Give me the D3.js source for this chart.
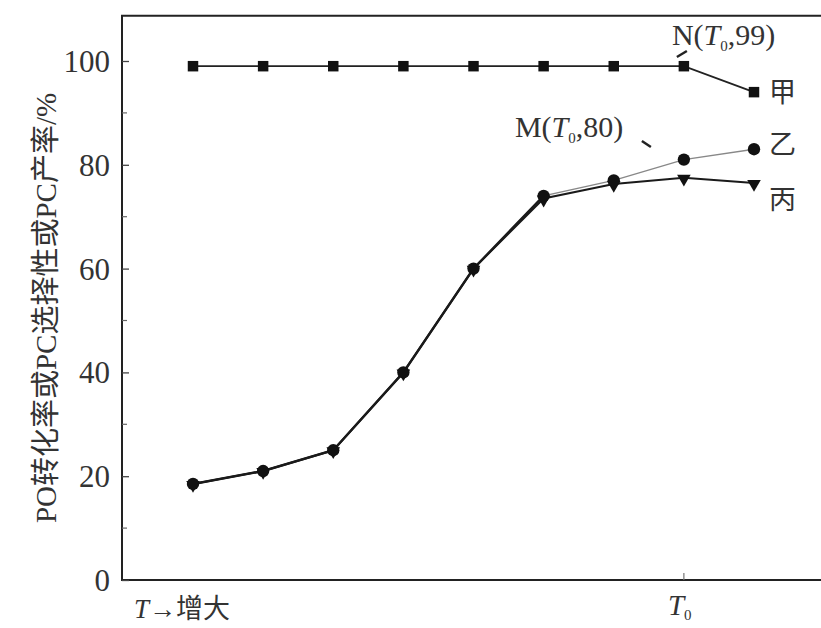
<!DOCTYPE html>
<html><head><meta charset="utf-8">
<script src="https://cdn.jsdelivr.net/npm/d3@7/dist/d3.min.js"></script>
<style>body{margin:0;background:#fff}</style>
</head><body>
<svg id="c" width="821" height="628"></svg>
<script>
const xIndex = [0,1,2,3,4,5,6,7,8];
const jia  = [99,99,99,99,99,99,99,99,94];
const yi   = [18.5,21,25,40,60,74,77,81,83];
const bing = [18.5,21,25,40,60,73.5,76.3,77.5,76.5];
const yTicks = [0,20,40,60,80,100];
const yMinor = [10,30,50,70,90];

const svg = d3.select("#c");
const x = d3.scaleLinear().domain([0,8]).range([193,754]);
const y = d3.scaleLinear().domain([0,100]).range([580,61]);
const pLeft = 122, pRight = 830, pBottom = y(0), pTop = y(108.7);
const serif = "'Liberation Serif','DejaVu Serif',serif";
const cjk = "'Liberation Serif','Noto Sans CJK SC',serif";

// frame
svg.append("path").attr("d",`M${pRight},${pTop}H${pLeft}V${pBottom}H${pRight}`)
  .attr("fill","none").attr("stroke","#222").attr("stroke-width",2);

// y axis ticks
const ya = svg.append("g").attr("transform",`translate(${pLeft},0)`)
  .call(d3.axisLeft(y).tickValues(yTicks).tickSize(-7).tickPadding(12).tickFormat(d3.format("d")));
ya.select(".domain").remove();
ya.selectAll("text").attr("font-family",serif).attr("font-size",31).attr("fill","#333").attr("dy","0.34em");
ya.selectAll("line").attr("stroke","#444").attr("stroke-width",1.3);
svg.append("g").selectAll("line").data(yMinor).join("line")
  .attr("x1",pLeft).attr("x2",pLeft+5).attr("y1",d=>y(d)).attr("y2",d=>y(d))
  .attr("stroke","#666").attr("stroke-width",1.2);

// bottom tick at T0
svg.append("line").attr("x1",x(7)).attr("x2",x(7)).attr("y1",pBottom).attr("y2",pBottom-7)
  .attr("stroke","#777").attr("stroke-width",1.2);

// y title
svg.append("text").attr("transform",`translate(56,308) rotate(-90)`)
  .attr("text-anchor","middle").attr("font-family",cjk).attr("font-size",29).attr("fill","#333")
  .text("PO转化率或PC选择性或PC产率/%");

// x labels
const t1 = svg.append("text").attr("x",134).attr("y",618).attr("font-family",cjk).attr("font-size",27).attr("fill","#333");
t1.append("tspan").attr("font-style","italic").attr("font-family",serif).text("T");
t1.append("tspan").text("→增大");
const t2 = svg.append("text").attr("x",x(7)-16).attr("y",615).attr("font-family",serif).attr("font-size",29).attr("fill","#333");
t2.append("tspan").attr("font-style","italic").text("T");
t2.append("tspan").attr("font-size",15).attr("dy",5).text("0");

const line = d3.line().x((d,i)=>x(xIndex[i])).y(d=>y(d));

// lines
svg.append("path").datum(jia).attr("d",line).attr("fill","none").attr("stroke","#222").attr("stroke-width",1.8);
svg.append("path").datum(yi).attr("d",line).attr("fill","none").attr("stroke","#888").attr("stroke-width",1.4);
svg.append("path").datum(bing).attr("d",line).attr("fill","none").attr("stroke","#1a1a1a").attr("stroke-width",2);
svg.append("path").datum(yi.slice(0,6)).attr("d",line).attr("fill","none").attr("stroke","#1a1a1a").attr("stroke-width",2.4);

// markers
const sq = d3.symbol().type(d3.symbolSquare).size(110);
const ci = d3.symbol().type(d3.symbolCircle).size(120);
const tri = d3.symbol().type(d3.symbolTriangle).size(80);
svg.append("g").selectAll("path").data(jia).join("path").attr("d",sq)
  .attr("transform",(d,i)=>`translate(${x(xIndex[i])},${y(d)})`).attr("fill","#111");
svg.append("g").selectAll("path").data(bing).join("path").attr("d",tri)
  .attr("transform",(d,i)=>`translate(${x(xIndex[i])},${y(d)+1}) rotate(180)`).attr("fill","#111");
svg.append("g").selectAll("path").data(yi).join("path").attr("d",ci)
  .attr("transform",(d,i)=>`translate(${x(xIndex[i])},${y(d)})`).attr("fill","#111");

// series labels
const lab = [["甲",jia[8]],["乙",yi[8]+1],["丙",bing[8]-3]];
svg.append("g").selectAll("text").data(lab).join("text")
  .attr("x",x(8)+15).attr("y",d=>y(d[1])+10).attr("font-family","'Noto Sans CJK SC',sans-serif")
  .attr("font-size",27).attr("fill","#333").text(d=>d[0]);

// annotations
const n = svg.append("text").attr("x",x(7)-12).attr("y",45).attr("font-family",serif).attr("font-size",30).attr("fill","#333");
n.append("tspan").text("N(");
n.append("tspan").attr("font-style","italic").text("T");
n.append("tspan").attr("font-size",15).attr("dy",6).text("0");
n.append("tspan").attr("dy",-6).text(",99)");
svg.append("line").attr("x1",x(7)-7).attr("y1",57).attr("x2",x(7)+3).attr("y2",51).attr("stroke","#222").attr("stroke-width",2.4);

const m = svg.append("text").attr("x",x(7)-169).attr("y",137).attr("font-family",serif).attr("font-size",30).attr("fill","#333");
m.append("tspan").text("M(");
m.append("tspan").attr("font-style","italic").text("T");
m.append("tspan").attr("font-size",15).attr("dy",6).text("0");
m.append("tspan").attr("dy",-6).text(",80)");
svg.append("line").attr("x1",x(7)-42).attr("y1",141).attr("x2",x(7)-33).attr("y2",147).attr("stroke","#222").attr("stroke-width",2.4);
</script>
</body></html>
